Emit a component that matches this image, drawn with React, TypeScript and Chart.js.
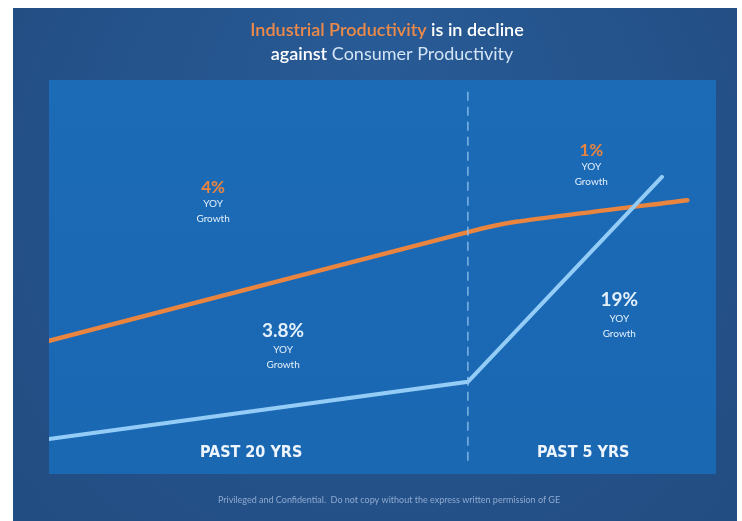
import React, { useEffect, useRef } from "react";
import { Chart, registerables } from "chart.js";

Chart.register(...registerables);

// Abstract horizontal position (0 = left edge of plot, 100 = right edge)
const industrialX = [0, 62.8, 70, 95.7];
const industrialY = [33.8, 61.4, 64.0, 69.5];
const consumerX = [0, 62.8, 91.9];
const consumerY = [8.9, 23.4, 75.4];
const dividerX = [62.8, 62.8];
const dividerY = [97, 3];

const periodLabels = ["PAST 20 YRS", "PAST 5 YRS"];
const periodX = [30.3, 80.1];
const periodY = [5.3, 5.3];

const growthValues = ["4%", "3.8%", "1%", "19%"];
const growthSeries = ["industrial", "consumer", "industrial", "consumer"];
const growthX = [24.6, 35.1, 81.3, 85.5];
const growthY = [72.8, 36.3, 82.2, 44.2];

const titleLine1 = [
  { text: "Industrial Productivity", kind: "orange" },
  { text: " is in decline", kind: "white" },
];
const titleLine2 = [
  { text: "against", kind: "whiteBold" },
  { text: " Consumer Productivity", kind: "light" },
];
const footerText =
  "Privileged and Confidential.  Do not copy without the express written permission of GE";

const ORANGE = "#ea8540";
const LIGHTBLUE = "#93cdf7";
const FONT = "Lato, 'Open Sans', sans-serif";

export default function App() {
  const ref = useRef<HTMLCanvasElement | null>(null);

  useEffect(() => {
    if (!ref.current) return;

    const decor = {
      id: "decor",
      beforeDraw(chart: any) {
        const { ctx, chartArea, height } = chart;
        ctx.save();
        ctx.fillStyle = "#ffffff";
        ctx.fillRect(0, 0, chart.width, height);
        const g = ctx.createRadialGradient(380, 40, 20, 380, 260, 520);
        g.addColorStop(0, "#285a95");
        g.addColorStop(1, "#214b80");
        ctx.fillStyle = g;
        ctx.fillRect(13, 8, 724, height - 8);
        const g2 = ctx.createLinearGradient(0, chartArea.top, 0, chartArea.bottom);
        g2.addColorStop(0, "#1c6bb7");
        g2.addColorStop(1, "#1a67b2");
        ctx.fillStyle = g2;
        ctx.fillRect(chartArea.left, chartArea.top, chartArea.right - chartArea.left, chartArea.bottom - chartArea.top);
        ctx.restore();
      },
      afterDraw(chart: any) {
        const { ctx } = chart;
        const xs = chart.scales.x;
        const ys = chart.scales.y;
        ctx.save();
        ctx.textBaseline = "middle";

        const drawLine = (parts: any[], cx: number, cy: number) => {
          const fontFor = (k: string) =>
            k === "light" ? `400 18px ${FONT}` : `600 18px ${FONT}`;
          let total = 0;
          parts.forEach((p) => {
            ctx.font = fontFor(p.kind);
            total += ctx.measureText(p.text).width;
          });
          let x = cx - total / 2;
          ctx.textAlign = "left";
          parts.forEach((p) => {
            ctx.font = fontFor(p.kind);
            ctx.fillStyle =
              p.kind === "orange" ? "#ee8a48" : p.kind === "light" ? "#d2e4f5" : "#ffffff";
            ctx.fillText(p.text, x, cy);
            x += ctx.measureText(p.text).width;
          });
        };
        drawLine(titleLine1, 387, 30);
        drawLine(titleLine2, 392, 54);

        ctx.textAlign = "center";
        ctx.fillStyle = "#eef5fc";
        ctx.font = `bold 16px 'Liberation Sans Narrow', 'DejaVu Sans Condensed', sans-serif`;
        periodLabels.forEach((t, i) => {
          ctx.fillText(t, xs.getPixelForValue(periodX[i]), ys.getPixelForValue(periodY[i]));
        });

        growthValues.forEach((v, i) => {
          const px = xs.getPixelForValue(growthX[i]);
          const py = ys.getPixelForValue(growthY[i]);
          const isInd = growthSeries[i] === "industrial";
          ctx.fillStyle = isInd ? ORANGE : "#e3f0fb";
          ctx.font = isInd ? `bold 17px ${FONT}` : `bold 19px ${FONT}`;
          ctx.fillText(v, px, py);
          ctx.fillStyle = "#e3f0fb";
          ctx.font = `10px ${FONT}`;
          const off = isInd ? 0 : 2;
          ctx.fillText("YOY", px, py + 17 + off);
          ctx.fillText("Growth", px, py + 32 + off);
        });

        ctx.fillStyle = "#8eaad0";
        ctx.font = `9px ${FONT}`;
        ctx.fillText(footerText, 389, 500);
        ctx.restore();
      },
    };

    const chart = new Chart(ref.current, {
      type: "line",
      data: {
        datasets: [
          {
            label: "Divider",
            data: dividerX.map((x, i) => ({ x, y: dividerY[i] })),
            borderColor: "rgba(150,200,240,0.8)",
            borderWidth: 1.5,
            borderDash: [9, 6],
            pointRadius: 0,
          },
          {
            label: "Consumer Productivity",
            data: consumerX.map((x, i) => ({ x, y: consumerY[i] })),
            borderColor: LIGHTBLUE,
            borderWidth: 4,
            pointRadius: 0,
            tension: 0,
            borderCapStyle: "round",
          },
          {
            label: "Industrial Productivity",
            data: industrialX.map((x, i) => ({ x, y: industrialY[i] })),
            borderColor: ORANGE,
            borderWidth: 4.5,
            pointRadius: 0,
            tension: 0.2,
            borderCapStyle: "round",
          },
        ],
      },
      options: {
        animation: false,
        responsive: true,
        maintainAspectRatio: false,
        layout: { padding: { left: 49, top: 80, right: 26, bottom: 47 } },
        plugins: { legend: { display: false }, tooltip: { enabled: false } },
        scales: {
          x: { type: "linear", min: 0, max: 100, display: false },
          y: { type: "linear", min: 0, max: 100, display: false },
        },
      } as any,
      plugins: [decor],
    });
    return () => chart.destroy();
  }, []);

  return (
    <div style={{ position: "fixed", left: 0, top: 0, width: 742, height: 521 }}>
      <canvas ref={ref} />
    </div>
  );
}
